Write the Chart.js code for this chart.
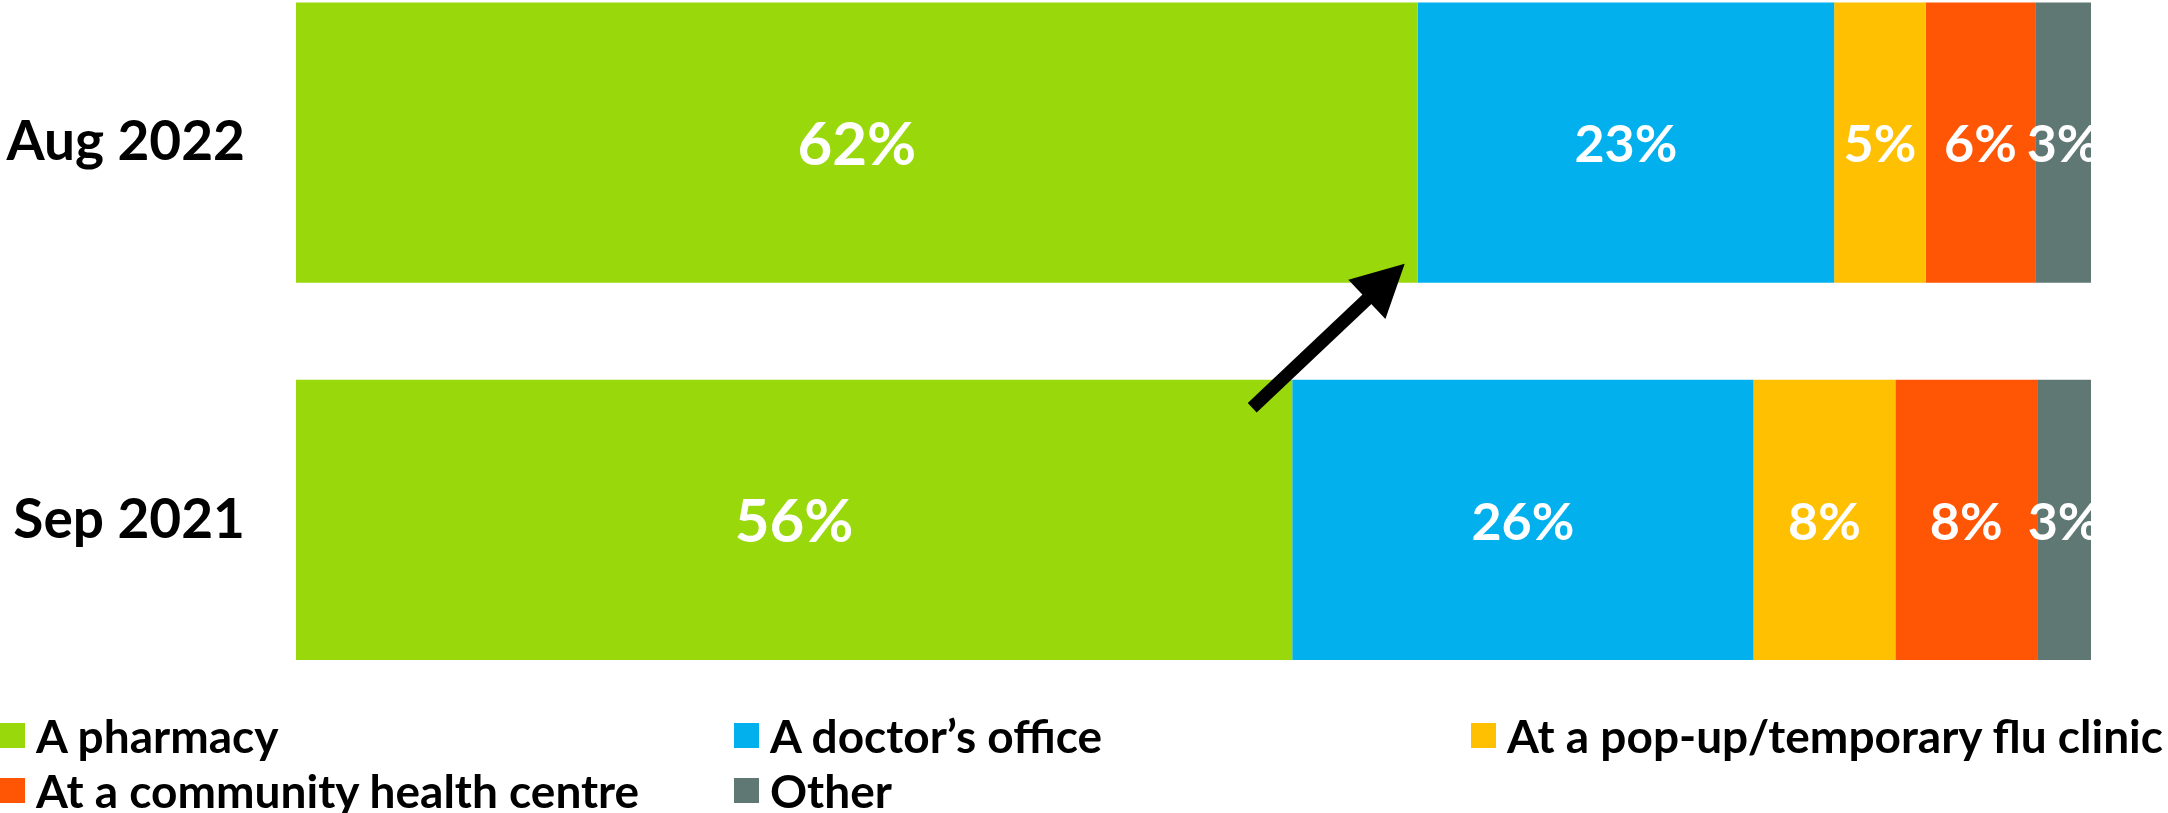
<!DOCTYPE html>
<html lang="en">
  <head>
    <meta charset="UTF-8" />
    <title>Flu shot location</title>
    <script src="https://cdn.jsdelivr.net/npm/chart.js"></script>
    <style>
      body { margin: 0; background: #fff; }
      #wrap { position: relative; width: 2168px; height: 813px; overflow: hidden; }
      #chart { position: absolute; left: 0; top: -46px; }
      #legend { position: absolute; left: 0; top: 0; width: 2168px; height: 813px; pointer-events: none;
        font-family: Lato, sans-serif; font-weight: 700; font-size: 46px; color: #000; }
      .item { position: absolute; display: flex; align-items: center; white-space: nowrap; }
      .box { width: 25px; height: 25px; margin-right: 11px; flex: none; }
    </style>
  </head>
  <body>
    <div id="wrap">
      <canvas id="chart" width="2168" height="859"></canvas>
      <div id="legend"></div>
    </div>

    <script>
      const periods = ['Aug 2022', 'Sep 2021'];
      const locations = [
        'A pharmacy',
        'A doctor\u2019s office',
        'At a pop-up/temporary flu clinic',
        'At a community health centre',
        'Other'
      ];
      // share of respondents per location, [Aug 2022, Sep 2021]
      const pharmacy = [62.49, 55.5];
      const doctor = [23.2, 25.7];
      const popup = [5.1, 7.9];
      const community = [6.1, 7.9];
      const other = [3.11, 3.0];
      const colors = ['#99d80a', '#03b0ee', '#fec000', '#ff5606', '#607874'];

      const series = [pharmacy, doctor, popup, community, other];

      const labelPlugin = {
        id: 'segLabels',
        afterDatasetsDraw(chart) {
          const { ctx, chartArea } = chart;
          ctx.save();
          ctx.beginPath();
          ctx.rect(chartArea.left, chartArea.top, chartArea.right - chartArea.left, chartArea.bottom - chartArea.top);
          ctx.clip();
          ctx.fillStyle = '#fff';
          ctx.textAlign = 'center';
          ctx.textBaseline = 'middle';
          chart.data.datasets.forEach((ds, i) => {
            const meta = chart.getDatasetMeta(i);
            ctx.font = (i === 0 ? '700 60px' : '700 52px') + ' Lato, sans-serif';
            meta.data.forEach((bar, j) => {
              const cx = (bar.x + bar.base) / 2;
              ctx.fillText(Math.round(ds.data[j]) + '%', cx, bar.y + 3);
            });
          });
          ctx.restore();

          // arrow from end of Sep 2021 pharmacy to end of Aug 2022 pharmacy
          const m = chart.getDatasetMeta(0);
          const aug = m.data[0], sep = m.data[1];
          const tip = { x: aug.x - 13, y: aug.y + aug.height / 2 - 19 };
          const tail = { x: sep.x - 40, y: sep.y - sep.height / 2 + 28 };
          const ang = Math.atan2(tip.y - tail.y, tip.x - tail.x);
          const headLen = 52, headHalf = 27;
          const bx = tip.x - headLen * Math.cos(ang), by = tip.y - headLen * Math.sin(ang);
          ctx.save();
          ctx.strokeStyle = '#000';
          ctx.fillStyle = '#000';
          ctx.lineWidth = 13;
          ctx.lineCap = 'butt';
          ctx.beginPath();
          ctx.moveTo(tail.x, tail.y);
          ctx.lineTo(bx + 2 * Math.cos(ang), by + 2 * Math.sin(ang));
          ctx.stroke();
          ctx.beginPath();
          ctx.moveTo(tip.x, tip.y);
          ctx.lineTo(bx - headHalf * Math.sin(ang), by + headHalf * Math.cos(ang));
          ctx.lineTo(bx + headHalf * Math.sin(ang), by - headHalf * Math.cos(ang));
          ctx.closePath();
          ctx.fill();
          ctx.restore();
        }
      };

      const chart = new Chart(document.getElementById('chart'), {
        type: 'bar',
        data: {
          labels: periods,
          datasets: series.map((vals, i) => ({
            label: locations[i],
            data: vals,
            backgroundColor: colors[i],
            borderWidth: 0,
            categoryPercentage: 1,
            barPercentage: 0.743
          }))
        },
        options: {
          indexAxis: 'y',
          responsive: false,
          animation: false,
          layout: { padding: { top: 0, bottom: 104.5, left: 0, right: 77 } },
          plugins: {
            legend: { display: false },
            tooltip: { enabled: false }
          },
          scales: {
            x: { stacked: true, min: 0, max: 100, display: false },
            y: {
              stacked: true,
              grid: { display: false, drawTicks: false },
              border: { display: false },
              ticks: {
                color: '#000',
                padding: 51,
                font: { family: 'Lato, sans-serif', weight: '700', size: 55 }
              },
              afterFit(scale) {
                scale.width = 296;
                scale.paddingTop = 0;
                scale.paddingBottom = 0;
              }
            }
          }
        },
        plugins: [labelPlugin]
      });

      // legend laid out in three columns like the original
      const legend = document.getElementById('legend');
      const spots = [[0, 735], [734, 735], [1471, 735], [0, 790], [734, 790]];
      locations.forEach((name, i) => {
        const el = document.createElement('div');
        el.className = 'item';
        el.style.left = spots[i][0] + 'px';
        el.style.top = (spots[i][1] - 28) + 'px';
        el.style.height = '56px';
        el.innerHTML = `<span class="box" style="background:${colors[i]}"></span><span>${name}</span>`;
        legend.appendChild(el);
      });
    </script>
  </body>
</html>
